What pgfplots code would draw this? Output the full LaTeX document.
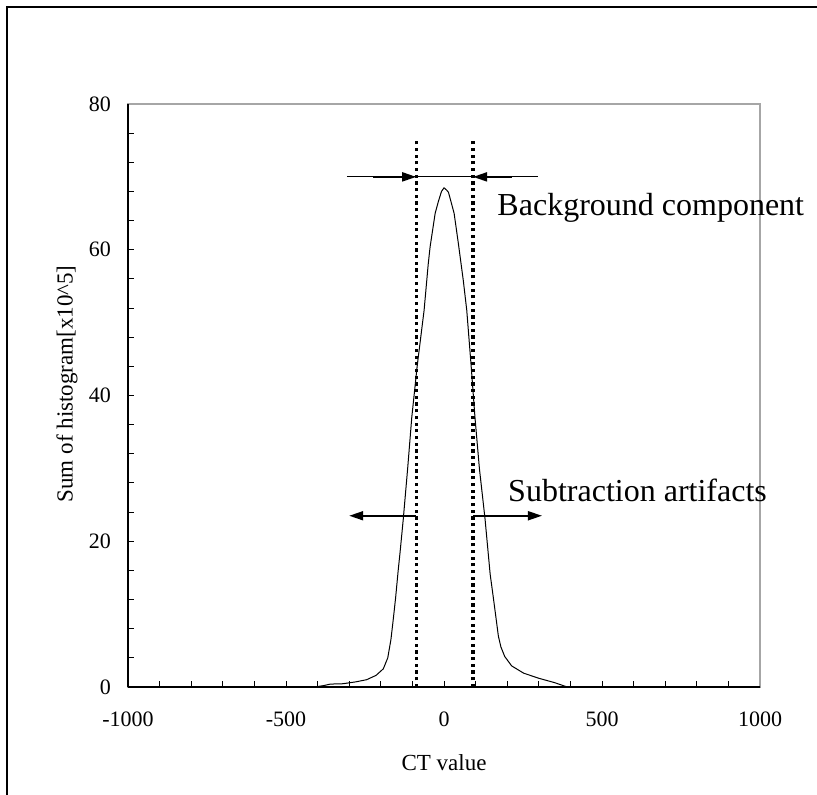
\documentclass[border=0pt]{standalone}
\usepackage{fontspec}
\setmainfont{Liberation Serif}
\usepackage{pgfplots}
\pgfplotsset{compat=1.18}
\usetikzlibrary{arrows.meta}

\begin{document}
\begin{tikzpicture}
\useasboundingbox (0,0) rectangle (408.5pt,397pt);
% outer frame, cut by the page on the right and at the bottom
\draw[line width=0.8pt] (3.5pt,-5pt) -- (3.5pt,393.5pt) -- (415pt,393.5pt);
\begin{axis}[
  at={(64pt,53.5pt)}, anchor=south west,
  scale only axis, width=316pt, height=291.5pt,
  xmin=-1000, xmax=1000, ymin=0, ymax=80,
  xtick={-1000,-500,0,500,1000}, xticklabels={-1000,-500,0,500,1000},
  ytick={0,20,40,60,80}, yticklabels={0,20,40,60,80},
  minor x tick num=4, minor y tick num=4,
  tick pos=left, tick align=inside,
  major tick length=3pt, minor tick length=3pt,
  every tick/.style={black, line width=0.5pt},
  axis line style={gray!70, line width=0.6pt},
  tick label style={font=\fontsize{11}{13}\selectfont},
  xticklabel shift=9pt, yticklabel shift=5pt,
  xlabel={CT value}, ylabel={Sum of histogram[x10\textasciicircum 5]},
  label style={font=\fontsize{11.5}{13}\selectfont},
  xlabel style={at={(axis description cs:0.5,-0.130)}, anchor=center},
  ylabel style={at={(axis description cs:-0.0965,0.52)}, anchor=center},
  clip=false,
]
\addplot[black, line width=0.5pt] coordinates {
  (-1000,0) (-410,0) (-380,0.2) (-360,0.4) (-320,0.45) (-280,0.7)
  (-245,1.0) (-215,1.6) (-192,2.5) (-178,4) (-168,6.5) (-160,9.5)
  (-153,12.3) (-145,16) (-139,18.5) (-129,23) (-115,30) (-102,37)
  (-85,44) (-63,51.7) (-50,58) (-44,60.4) (-28,65) (-18,66.6) (-8,68)
  (0,68.5) (8,68.2) (14,67.9) (24,66.3) (32,65) (45,61) (61,55.8)
  (72,51.7) (86,44) (98,37) (112,30) (130,23) (146,15.5) (156,12.3)
  (166,9) (172,7) (180,5.5) (192,4.2) (214,2.9) (252,1.9) (300,1.2)
  (350,0.6) (390,0) (1000,0)
};
\addplot[black, line width=1.6pt, dash pattern=on 1.6pt off 1.75pt] coordinates {(-88,0) (-88,75)};
\addplot[black, line width=1.6pt, dash pattern=on 1.6pt off 1.75pt] coordinates {(92,0) (92,75)};
% black left and bottom axis lines over the grey box
\draw[black, line width=0.7pt] (rel axis cs:0,1) -- (rel axis cs:0,0);
\draw[black, line width=1pt] (rel axis cs:0,0) -- (rel axis cs:1,0);
% arrows
\draw[line width=0.5pt] (axis cs:-307,70) -- (axis cs:297,70);
\draw[line width=1pt, -{Triangle[length=7pt,width=4.5pt]}] (axis cs:-225,70) -- (axis cs:-88,70);
\draw[line width=1pt, -{Triangle[length=7pt,width=4.5pt]}] (axis cs:215,70) -- (axis cs:92,70);
\draw[line width=0.9pt, -{Triangle[length=7pt,width=4.5pt]}] (axis cs:-88,23.5) -- (axis cs:-300,23.5);
\draw[line width=0.9pt, -{Triangle[length=7pt,width=4.5pt]}] (axis cs:92,23.5) -- (axis cs:310,23.5);
\node[anchor=west, inner sep=0pt, font=\fontsize{16}{19}\selectfont] at (axis cs:168,65.8) {Background component};
\node[anchor=west, inner sep=0pt, font=\fontsize{16}{19}\selectfont] at (axis cs:202,27) {Subtraction artifacts};
\end{axis}
\end{tikzpicture}
\end{document}
